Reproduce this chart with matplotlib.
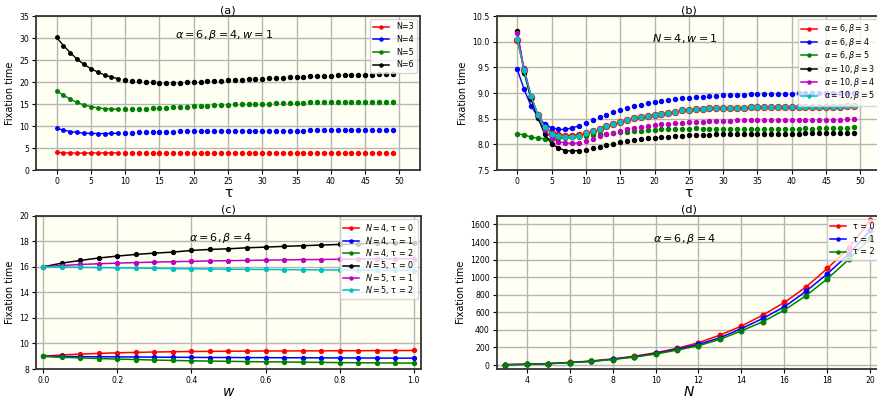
import matplotlib
matplotlib.use('Agg')
import matplotlib.pyplot as plt
from matplotlib.lines import Line2D
import numpy as np

# ---------------- data ----------------
tau = list(range(50))

a_N3 = [4.02, 3.92, 3.87, 3.85, 3.86, 3.87, 3.88, 3.89, 3.90, 3.91,
        3.92, 3.92, 3.93, 3.93, 3.93, 3.94, 3.94, 3.94, 3.94, 3.95,
        3.95, 3.95, 3.95, 3.95, 3.95, 3.95, 3.95, 3.95, 3.95, 3.95,
        3.95, 3.95, 3.95, 3.95, 3.95, 3.95, 3.95, 3.95, 3.95, 3.95,
        3.95, 3.95, 3.95, 3.95, 3.95, 3.95, 3.95, 3.95, 3.95, 3.95]
a_N4 = [9.46, 9.07, 8.75, 8.54, 8.39, 8.32, 8.29, 8.29, 8.32, 8.36,
        8.42, 8.48, 8.53, 8.58, 8.63, 8.67, 8.71, 8.74, 8.77, 8.80,
        8.83, 8.85, 8.87, 8.89, 8.90, 8.91, 8.92, 8.93, 8.94, 8.95,
        8.96, 8.96, 8.97, 8.97, 8.98, 8.98, 8.98, 8.99, 8.99, 8.99,
        8.99, 9.00, 9.00, 9.00, 9.00, 9.00, 9.00, 9.00, 9.00, 9.00]
a_N5 = [18.03, 17.00, 16.10, 15.35, 14.80, 14.39, 14.12, 13.95, 13.87, 13.84,
        13.86, 13.86, 13.88, 13.92, 14.00, 14.09, 14.17, 14.25, 14.32, 14.40,
        14.47, 14.55, 14.62, 14.70, 14.78, 14.85, 14.90, 14.95, 15.00, 15.04,
        15.08, 15.12, 15.17, 15.21, 15.26, 15.30, 15.33, 15.36, 15.39, 15.42,
        15.45, 15.47, 15.49, 15.51, 15.52, 15.53, 15.54, 15.55, 15.55, 15.56]
a_N6 = [30.15, 28.30, 26.67, 25.20, 24.00, 23.03, 22.27, 21.60, 21.14, 20.76,
        20.45, 20.28, 20.15, 20.03, 19.93, 19.87, 19.84, 19.84, 19.87, 19.93,
        20.03, 20.10, 20.17, 20.24, 20.32, 20.40, 20.47, 20.54, 20.62, 20.69,
        20.76, 20.84, 20.91, 20.99, 21.07, 21.14, 21.20, 21.26, 21.32, 21.38,
        21.44, 21.49, 21.53, 21.58, 21.62, 21.67, 21.70, 21.74, 21.77, 21.80]
a_labels = ['N=3', 'N=4', 'N=5', 'N=6']

b_a6b3 = [10.03, 9.45, 8.93, 8.58, 8.36, 8.23, 8.18, 8.17, 8.17, 8.19,
          8.22, 8.26, 8.30, 8.35, 8.40, 8.44, 8.48, 8.51, 8.54, 8.56,
          8.58, 8.60, 8.62, 8.64, 8.66, 8.675, 8.685, 8.69, 8.70, 8.705,
          8.71, 8.71, 8.715, 8.715, 8.72, 8.72, 8.72, 8.725, 8.725, 8.725,
          8.73, 8.73, 8.73, 8.73, 8.73, 8.73, 8.73, 8.735, 8.74, 8.745]
b_a6b4 = a_N4
b_a6b5 = [8.20, 8.19, 8.14, 8.12, 8.11, 8.11, 8.12, 8.13, 8.14, 8.15,
          8.17, 8.18, 8.20, 8.21, 8.23, 8.24, 8.25, 8.26, 8.27, 8.28,
          8.28, 8.29, 8.29, 8.30, 8.30, 8.30, 8.31, 8.30, 8.30, 8.30,
          8.30, 8.30, 8.29, 8.30, 8.30, 8.30, 8.30, 8.30, 8.30, 8.30,
          8.30, 8.30, 8.31, 8.30, 8.31, 8.32, 8.31, 8.31, 8.32, 8.33]
b_a10b3 = [10.20, 9.40, 8.88, 8.52, 8.20, 8.01, 7.93, 7.88, 7.87, 7.88,
           7.89, 7.92, 7.95, 7.98, 8.01, 8.04, 8.06, 8.08, 8.10, 8.12,
           8.13, 8.14, 8.15, 8.16, 8.17, 8.18, 8.185, 8.19, 8.19, 8.195,
           8.20, 8.20, 8.20, 8.20, 8.21, 8.21, 8.21, 8.21, 8.21, 8.21,
           8.21, 8.21, 8.215, 8.215, 8.22, 8.22, 8.22, 8.22, 8.22, 8.22]
b_a10b4 = [10.16, 9.48, 8.95, 8.58, 8.28, 8.12, 8.05, 8.03, 8.02, 8.03,
           8.07, 8.11, 8.16, 8.20, 8.23, 8.26, 8.29, 8.32, 8.34, 8.36,
           8.38, 8.39, 8.40, 8.41, 8.42, 8.43, 8.44, 8.445, 8.45, 8.455,
           8.46, 8.46, 8.465, 8.465, 8.47, 8.47, 8.47, 8.47, 8.475, 8.475,
           8.48, 8.48, 8.48, 8.48, 8.48, 8.48, 8.48, 8.48, 8.485, 8.485]
b_a10b5 = [10.05, 9.44, 8.94, 8.57, 8.33, 8.21, 8.16, 8.15, 8.15, 8.17] + b_a6b3[10:]
b_labels = [r'$\alpha=6, \beta=3$', r'$\alpha=6, \beta=4$', r'$\alpha=6, \beta=5$',
            r'$\alpha=10, \beta=3$', r'$\alpha=10, \beta=4$', r'$\alpha=10, \beta=5$']

w = [0.0, 0.05, 0.1, 0.15, 0.2, 0.25, 0.3, 0.35, 0.4, 0.45, 0.5,
     0.55, 0.6, 0.65, 0.7, 0.75, 0.8, 0.85, 0.9, 0.95, 1.0]
c_N4t0 = [9.00, 9.10, 9.17, 9.22, 9.27, 9.30, 9.33, 9.35, 9.37, 9.38, 9.39,
          9.40, 9.41, 9.41, 9.42, 9.42, 9.43, 9.43, 9.44, 9.44, 9.45]
c_N4t1 = [9.00, 8.98, 8.97, 8.96, 8.95, 8.94, 8.93, 8.92, 8.91, 8.90, 8.90,
          8.89, 8.89, 8.88, 8.88, 8.87, 8.87, 8.86, 8.86, 8.85, 8.85]
c_N4t2 = [8.98, 8.92, 8.87, 8.82, 8.78, 8.74, 8.70, 8.67, 8.64, 8.62, 8.60,
          8.58, 8.56, 8.55, 8.53, 8.52, 8.50, 8.49, 8.48, 8.47, 8.46]
c_N5t0 = [16.00, 16.29, 16.50, 16.69, 16.84, 16.97, 17.07, 17.15, 17.28, 17.36, 17.41,
          17.49, 17.54, 17.60, 17.65, 17.70, 17.75, 17.79, 17.83, 17.86, 17.89]
c_N5t1 = [16.00, 16.10, 16.18, 16.24, 16.29, 16.33, 16.37, 16.40, 16.43, 16.46, 16.48,
          16.50, 16.52, 16.54, 16.56, 16.57, 16.59, 16.60, 16.62, 16.63, 16.64]
c_N5t2 = [16.00, 15.98, 15.96, 15.94, 15.92, 15.90, 15.88, 15.86, 15.84, 15.83, 15.81,
          15.80, 15.79, 15.78, 15.77, 15.76, 15.75, 15.74, 15.73, 15.72, 15.71]
c_labels = [r'$N=4$, τ = 0', r'$N=4$, τ = 1', r'$N=4$, τ = 2',
            r'$N=5$, τ = 0', r'$N=5$, τ = 1', r'$N=5$, τ = 2']

d_N = list(range(3, 21))
d_t0 = [4, 9.5, 17, 30, 46, 70, 100, 140, 190, 254, 341, 443, 569, 713, 887, 1099, 1334, 1649]
d_t1 = [3.9, 9.0, 16, 28, 43, 66, 95, 132, 180, 235, 311, 415, 531, 663, 838, 1038, 1262, 1535]
d_t2 = [3.8, 8.7, 15.5, 27, 41, 63, 90, 125, 170, 220, 292, 390, 493, 626, 788, 981, 1202, 1444]
d_labels = ['τ = 0', 'τ = 1', 'τ = 2']

# ---------------- figure ----------------
fig = plt.figure(figsize=(8.78, 4.01), dpi=100)
BG = '#fffff3'
FS_TICK = 5.6
FS_LAB = 7
FS_LEG = 5.8
FS_TITLE = 8.0


def style(ax):
    ax.set_facecolor(BG)
    ax.grid(True, color='#b5b5b5', lw=1.0)
    ax.set_axisbelow(True)
    for s in ax.spines.values():
        s.set_color('#333333')
        s.set_linewidth(1.3)
    ax.tick_params(labelsize=FS_TICK, length=3, width=0.8, pad=2)


def handles(colors):
    return [Line2D([], [], color=c, marker='o', ms=2.2, lw=1.1) for c in colors]


def legend(ax, colors, labels, spacing=0.45):
    ax.legend(handles(colors), labels, loc='upper right', fontsize=FS_LEG,
              borderaxespad=0.4, handlelength=2.0, labelspacing=spacing)


# (a)
axa = fig.add_axes([0.041, 0.576, 0.4374, 0.384])
style(axa)
ca = ['red', 'blue', 'green', 'black']
for vals, c in zip([a_N3, a_N4, a_N5, a_N6], ca):
    axa.plot(tau[:10], vals[:10], '-o', color=c, ms=2.5, lw=1.0)
    axa.plot(tau[10:], vals[10:], 'o', color=c, ms=2.9, ls='none')
axa.set_xlim(-3, 53)
axa.set_ylim(0, 35)
axa.set_xticks(range(0, 51, 5))
axa.set_yticks(range(0, 36, 5))
axa.set_title('(a)', fontsize=FS_TITLE, pad=2)
axa.set_xlabel('τ', fontsize=10, labelpad=0)
axa.set_ylabel('Fixation time', fontsize=FS_LAB, labelpad=3)
axa.text(0.49, 0.88, r'$\alpha=6, \beta=4, w=1$', transform=axa.transAxes,
         ha='center', va='center', fontsize=8)
legend(axa, ca, a_labels)

# (b)
axb = fig.add_axes([0.5657, 0.576, 0.4377, 0.384])
style(axb)
cb = ['red', 'blue', 'green', 'black', 'm', 'c']
sizes = [4.3, 2.9, 2.9, 2.9, 2.9, 3.3]
for vals, c, s in zip([b_a6b3, b_a6b4, b_a6b5, b_a10b3, b_a10b4, b_a10b5], cb, sizes):
    axb.plot(tau[:10], vals[:10], '-o', color=c, ms=s, lw=1.0)
    axb.plot(tau[10:], vals[10:], 'o', color=c, ms=s, ls='none')
axb.set_xlim(-3, 53)
axb.set_ylim(7.5, 10.5)
axb.set_xticks(range(0, 51, 5))
axb.set_yticks(np.arange(7.5, 10.51, 0.5))
axb.set_title('(b)', fontsize=FS_TITLE, pad=2)
axb.set_xlabel('τ', fontsize=10, labelpad=0)
axb.set_ylabel('Fixation time', fontsize=FS_LAB, labelpad=3)
axb.text(0.49, 0.857, r'$N=4, w=1$', transform=axb.transAxes,
         ha='center', va='center', fontsize=8)
legend(axb, cb, b_labels, spacing=0.05)

# (c)
axc = fig.add_axes([0.041, 0.0798, 0.4385, 0.3823])
style(axc)
cc = ['red', 'blue', 'green', 'black', 'm', 'c']
for vals, c in zip([c_N4t0, c_N4t1, c_N4t2, c_N5t0, c_N5t1, c_N5t2], cc):
    axc.plot(w, vals, '-o', color=c, ms=2.8, lw=1.1)
axc.set_xlim(-0.02, 1.02)
axc.set_ylim(8, 20)
axc.set_xticks(np.arange(0, 1.01, 0.2))
axc.set_yticks(range(8, 21, 2))
axc.set_title('(c)', fontsize=FS_TITLE, pad=2)
axc.set_xlabel(r'$w$', fontsize=10, labelpad=0)
axc.set_ylabel('Fixation time', fontsize=FS_LAB, labelpad=3)
axc.text(0.478, 0.856, r'$\alpha=6, \beta=4$', transform=axc.transAxes,
         ha='center', va='center', fontsize=8)
legend(axc, cc, c_labels, spacing=0.05)

# (d)
axd = fig.add_axes([0.5657, 0.0798, 0.4377, 0.3823])
style(axd)
cd = ['red', 'blue', 'green']
for vals, c in zip([d_t0, d_t1, d_t2], cd):
    axd.plot(d_N, vals, '-o', color=c, ms=3.3, lw=1.1)
axd.set_xlim(2.6, 20.5)
axd.set_ylim(-45, 1700)
axd.set_xticks(range(4, 21, 2))
axd.set_yticks(range(0, 1601, 200))
axd.set_title('(d)', fontsize=FS_TITLE, pad=2)
axd.set_xlabel(r'$N$', fontsize=10, labelpad=0)
axd.set_ylabel('Fixation time', fontsize=FS_LAB, labelpad=3)
axd.text(0.49, 0.85, r'$\alpha=6, \beta=4$', transform=axd.transAxes,
         ha='center', va='center', fontsize=8)
legend(axd, cd, d_labels)

fig.savefig('out.png', dpi=100, facecolor='white')
